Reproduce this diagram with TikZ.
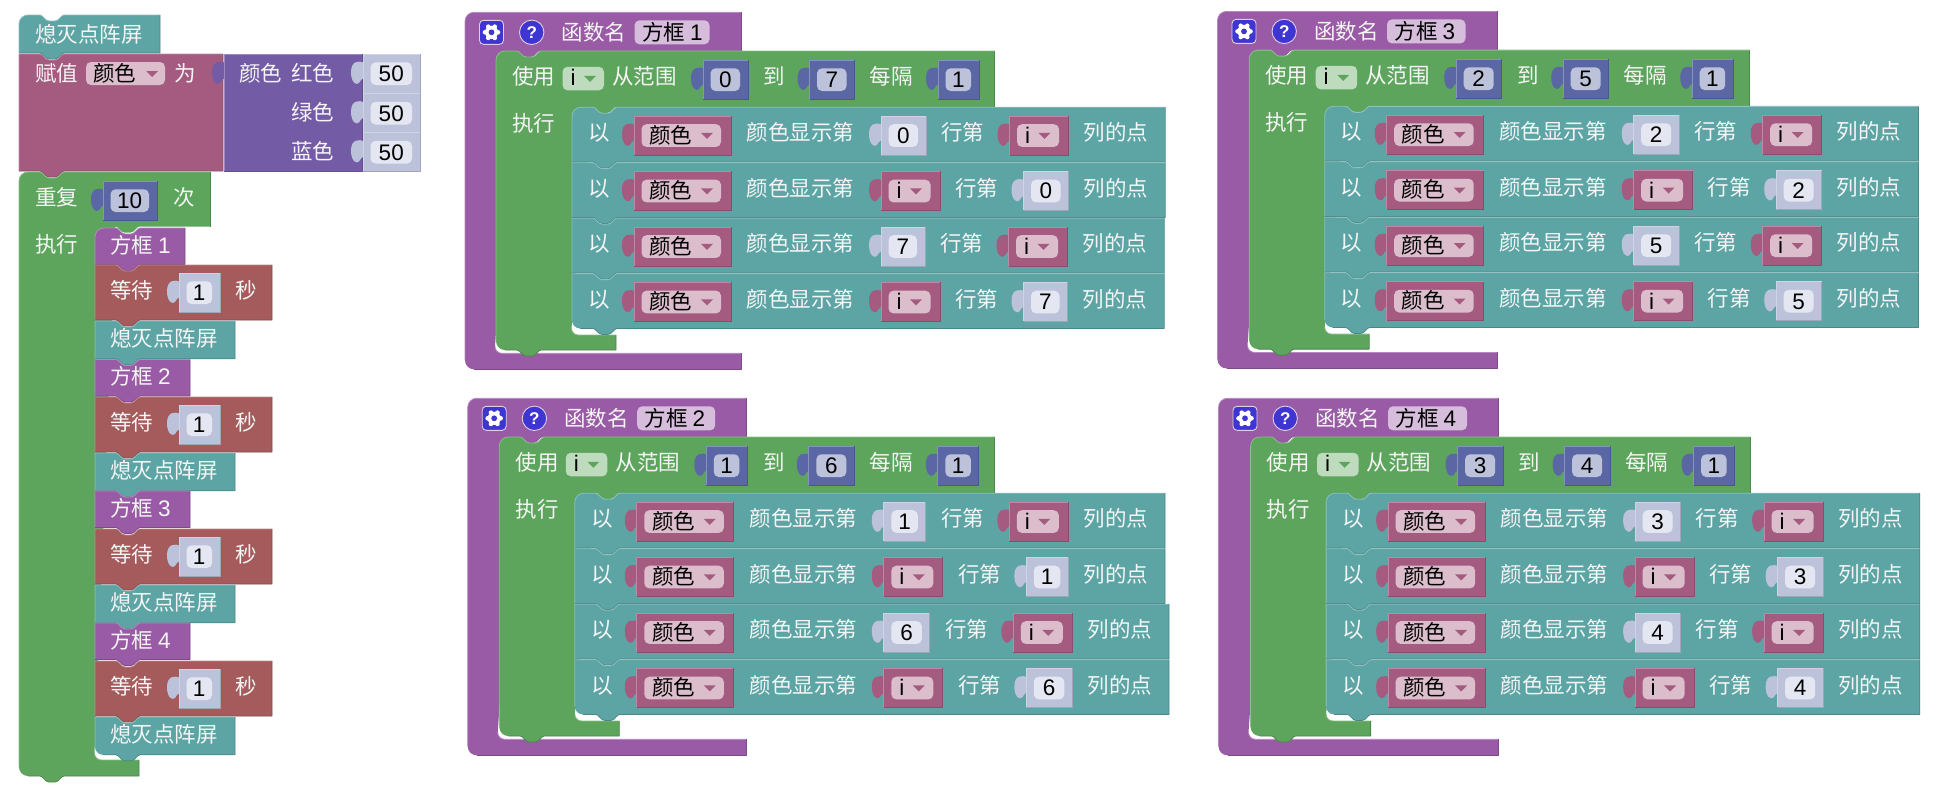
\documentclass[tikz,border=0pt]{standalone}
\usepackage{fontspec}
\setmainfont{Noto Sans CJK SC}
\newfontfamily\dg{Liberation Sans}
\definecolor{cgreen}{HTML}{5DA55D}
\definecolor{cteal}{HTML}{5DA5A5}
\definecolor{cpink}{HTML}{A55B80}
\definecolor{clist}{HTML}{745BA5}
\definecolor{cproc}{HTML}{995BA5}
\definecolor{cred}{HTML}{A55B5B}
\definecolor{cblue}{HTML}{5B67A5}
\definecolor{cpale}{HTML}{BDC2DB}
\definecolor{cicon}{HTML}{3F35D2}
\tikzset{
  lbl/.style={anchor=base west,inner sep=0pt,font=\fontsize{21.5}{22}\selectfont},
  num/.style={anchor=base,inner sep=0pt,font=\dg\fontsize{22.5}{23}\selectfont,text=black},
  edge/.style={line width=.8pt,line join=round}
}
\newcount\lbn
\newcommand\lab[3]{\global\advance\lbn by 1 \node[lbl,text=white!96!black] (t\the\lbn) at ({#1},{#2+8}) {#3};}
\newcommand\labk[3]{\global\advance\lbn by 1 \node[lbl,text=black] (t\the\lbn) at ({#1},{#2+8}) {#3};}
\newcommand\numb[3]{\global\advance\lbn by 1 \node[num] (t\the\lbn) at ({#1},{#2+8}) {#3};}
\newcommand\dgt[1]{{\dg\fontsize{22.5}{23}\selectfont #1}}
% notch and tab
\newcommand\tn[3]{-- ({#1+21},{#2}) .. controls ({#1+24},{#2}) and ({#1+26},{#2+#3}) .. ({#1+30},{#2+#3}) -- ({#1+36},{#2+#3}) .. controls ({#1+40},{#2+#3}) and ({#1+42},{#2}) .. ({#1+45},{#2})}
\newcommand\bt[3]{-- ({#1+45},{#2}) .. controls ({#1+42},{#2}) and ({#1+40},{#2+#3}) .. ({#1+36},{#2+#3}) -- ({#1+30},{#2+#3}) .. controls ({#1+26},{#2+#3}) and ({#1+24},{#2}) .. ({#1+21},{#2})}
% stack block: x1 y1 x2 y2 colour topradius bottomradius
\newcommand\sblock[7]{%
  \fill[#5] ({#1},{#2+#6}) .. controls ({#1},{#2+.45*#6}) and ({#1+.45*#6},{#2}) .. ({#1+#6},{#2}) \tn{#1}{#2}{6} -- ({#3},{#2}) -- ({#3},{#4}) \bt{#1}{#4}{6} -- ({#1+#7},{#4}) .. controls ({#1+.45*#7},{#4}) and ({#1},{#4-.45*#7}) .. ({#1},{#4-#7}) -- cycle;
  \draw[edge,#5!72!white] ({#1},{#4-#7}) -- ({#1},{#2+#6}) .. controls ({#1},{#2+.45*#6}) and ({#1+.45*#6},{#2}) .. ({#1+#6},{#2}) \tn{#1}{#2}{6} -- ({#3},{#2});
  \draw[edge,#5!82!black] ({#3},{#2}) -- ({#3},{#4}) \bt{#1}{#4}{6} -- ({#1+#7},{#4});
}
% C block: x1 y1 x2 y2 xi y3 x4 y4 colour ; \cd is outer notch depth
\def\cd{6}
\newcommand\cblock[9]{%
  \fill[#9] ({#1},{#2+9}) .. controls ({#1},{#2+4}) and ({#1+4},{#2}) .. ({#1+9},{#2}) \tn{#1}{#2}{\cd} -- ({#3},{#2}) -- ({#3},{#4}) \bt{#5}{#4}{6} -- ({#5},{#6-7}) .. controls ({#5},{#6-3}) and ({#5+3},{#6}) .. ({#5+7},{#6}) -- ({#7},{#6}) -- ({#7},{#8}) \bt{#1}{#8}{\cd} -- ({#1+9},{#8}) .. controls ({#1+4},{#8}) and ({#1},{#8-4}) .. ({#1},{#8-9}) -- cycle;
  \draw[edge,#9!72!white] ({#1},{#8-9}) -- ({#1},{#2+9}) .. controls ({#1},{#2+4}) and ({#1+4},{#2}) .. ({#1+9},{#2}) \tn{#1}{#2}{\cd} -- ({#3},{#2});
  \draw[edge,#9!72!white] ({#5},{#6-7}) .. controls ({#5},{#6-3}) and ({#5+3},{#6}) .. ({#5+7},{#6}) -- ({#7},{#6});
  \draw[edge,#9!82!black] ({#3},{#2}) -- ({#3},{#4});
  \draw[edge,#9!82!black] ({#7},{#6}) -- ({#7},{#8}) \bt{#1}{#8}{\cd} -- ({#1+9},{#8});
}
% value block with a puzzle tab: xl yt xr h colour
\newcommand\vblock[5]{%
  \fill[#5] ({#1},{#2}) rectangle ({#3},{#2+#4});
  \fill[#5] ({#1+.5},{#2+8.5}) .. controls ({#1-3},{#2+7}) and ({#1-12},{#2+6}) .. ({#1-12},{#2+18}) .. controls ({#1-12},{#2+28}) and ({#1-7},{#2+32}) .. ({#1-4},{#2+29}) .. controls ({#1-3},{#2+27.5}) and ({#1-2},{#2+25}) .. ({#1+.5},{#2+24}) -- cycle;
  \draw[edge,#5!72!white] ({#1},{#2+#4}) -- ({#1},{#2}) -- ({#3},{#2});
  \draw[edge,#5!85!black] ({#3},{#2}) -- ({#3},{#2+#4}) -- ({#1},{#2+#4});
}
\newcommand\field[5]{\fill[#5!40!white,rounded corners=5pt] ({#1},{#2}) rectangle ({#3},{#4});}
\newcommand\tri[4]{\fill[#4] ({#1},{#2}) -- ({#1+12},{#2}) -- ({#1+6},{#2+6}) -- cycle;}
% digit value: xl yt xr digit blockcolour
\newcommand\nval[5]{%
  \vblock{#1}{#2}{#3}{39}{#5}
  \field{#1+7.5}{#2+8.3}{#3-8}{#2+31}{#5}
  \numb{(#1+7.5+#3-8)/2}{#2+19.5}{#4}
}
% i value: xl yt
\newcommand\ival[2]{%
  \vblock{#1}{#2}{#1+59}{39}{cpink}
  \field{#1+7.5}{#2+8.3}{#1+49.5}{#2+31}{cpink}
  \numb{#1+18}{#2+19.5}{i}
  \tri{#1+29}{#2+17}{}{cpink}
}
\newcommand\anyval[4]{\def\zzt{#3}\def\zzi{i}\ifx\zzt\zzi\ival{#1}{#2}\else\nval{#1}{#2}{#1+#4}{#3}{cpale}\fi}
% row: X Y a wa b wb topradius bottomradius
\newcommand\plotrow[8]{%
  \pgfmathsetmacro\zzvr{#1+309+#4}
  \pgfmathsetmacro\zzvl{\zzvr+83.5}
  \pgfmathsetmacro\zzwr{\zzvl+#6}
  \pgfmathsetmacro\zzri{\zzwr+96.7}
  \sblock{#1}{#2}{\zzri}{#2+54.7}{cteal}{#7}{#8}
  \lab{#1+16}{#2+25.5}{以}
  \vblock{#1+62}{#2+8.7}{#1+159}{39}{cpink}
  \field{#1+69.5}{#2+17}{#1+149}{#2+39.7}{cpink}
  \labk{#1+77}{#2+28}{颜色}
  \tri{#1+129}{#2+25.7}{}{cpink}
  \lab{#1+174.5}{#2+25.5}{颜色显示第}
  \anyval{#1+309}{#2+8.7}{#3}{#4}
  \lab{\zzvr+15}{#2+25.5}{行第}
  \anyval{\zzvl}{#2+8.7}{#5}{#6}
  \lab{\zzwr+15}{#2+25.5}{列的点}
}
% function wrapper: O T fieldwidth digit
\newcommand\funcblock[4]{%
  \pgfmathsetmacro\zzfr{#1+169.5+#3}
  \def\cd{0}
  \cblock{#1}{#2}{\zzfr+31.6}{#2+38.7}{#1+30}{#2+341}{\zzfr+31.6}{#2+357}{cproc}
  \def\cd{6}
  \fill[cicon,draw=white!70!cproc,line width=.9pt,rounded corners=4pt] ({#1+14.5},{#2+8}) rectangle ({#1+38.5},{#2+32});
  \fill[white] ({#1+26.5},{#2+20}) circle (6.6);
  \foreach \zza in {0,60,...,300}{\fill[white] ({#1+26.5+6.5*cos(\zza)},{#2+20+6.5*sin(\zza)}) circle (2.3);}
  \fill[cicon] ({#1+26.5},{#2+20}) circle (2.9);
  \fill[cicon,draw=white!70!cproc,line width=.9pt] ({#1+66.7},{#2+20}) circle (12.2);
  \global\advance\lbn by 1
  \node[inner sep=0pt,anchor=base,text=white,font=\dg\bfseries\fontsize{17}{17}\selectfont] (t\the\lbn) at ({#1+66.7},{#2+26}) {?};
  \lab{#1+96.5}{#2+19.7}{函数名}
  \field{#1+169.5}{#2+8}{\zzfr}{#2+32}{cproc}
  \labk{#1+177}{#2+20}{方框 \dgt{#4}}
}
% loop head: I T a wa b wb
\newcommand\forhead[6]{%
  \pgfmathsetmacro\zzar{#1+207+#4}
  \pgfmathsetmacro\zzbl{\zzar+61.5}
  \pgfmathsetmacro\zzbr{\zzbl+#6}
  \pgfmathsetmacro\zzcl{\zzbr+83.5}
  \cblock{#1}{#2+38.7}{\zzcl+56.7}{#2+94.5}{#1+75.5}{#2+322.7}{#1+120}{#2+337.7}{cgreen}
  \lab{#1+16}{#2+64.5}{使用}
  \field{#1+66.5}{#2+54.5}{#1+108}{#2+78}{cgreen}
  \numb{#1+77}{#2+65.5}{i}
  \tri{#1+88}{#2+63.5}{}{cgreen}
  \lab{#1+116}{#2+64.5}{从范围}
  \nval{#1+207}{#2+47.7}{\zzar}{#3}{cblue}
  \lab{\zzar+15.5}{#2+64.5}{到}
  \nval{\zzbl}{#2+47.7}{\zzbr}{#5}{cblue}
  \lab{\zzbr+15}{#2+64.5}{每隔}
  \nval{\zzcl}{#2+47.7}{\zzcl+41}{1}{cblue}
  \lab{#1+16}{#2+111.5}{执行}
}
\newcommand\seqwait[1]{%
  \sblock{95}{#1}{272}{#1+55}{cred}{0}{0}
  \lab{110}{#1+25}{等待}
  \nval{179}{#1+8}{220}{1}{cpale}
  \lab{235}{#1+25}{秒}
}
\newcommand\seqdark[2]{%
  \sblock{95}{#1}{235}{#1+37.8}{cteal}{0}{#2}
  \lab{110}{#1+17.3}{熄灭点阵屏}
}
\newcommand\seqbox[4]{%
  \sblock{95}{#1}{#2}{#1+36.5}{cproc}{#4}{0}
  \lab{110}{#1+17.3}{方框 \dgt{#3}}
}
\begin{document}
\begin{tikzpicture}[x=1pt,y=-1pt]
\useasboundingbox (0,0) rectangle (1942,798);
\fill[white] (0,0) rectangle (1942,798);
% ---- left column
\sblock{19}{15}{160}{53}{cteal}{9}{0}
\lab{35}{34}{熄灭点阵屏}
\sblock{19}{54}{223}{171}{cpink}{0}{0}
\lab{35}{73}{赋值}
\field{86}{62}{165}{85}{cpink}
\labk{93}{73.5}{颜色}
\tri{146}{71}{}{cpink}
\lab{174}{73}{为}
\vblock{224}{54}{362}{117}{clist}
\lab{239}{73}{颜色}
\lab{291}{73}{红色}
\lab{291}{112}{绿色}
\lab{291}{151}{蓝色}
\nval{363}{54}{420}{50}{cpale}
\nval{363}{93.5}{420}{50}{cpale}
\nval{363}{132.5}{420}{50}{cpale}
\cblock{19}{172}{210}{226.5}{94.5}{760}{139}{776}{cgreen}
\lab{35}{197}{重复}
\nval{103}{181}{157}{10}{cblue}
\lab{173}{197}{次}
\lab{35}{244}{执行}
\seqbox{228}{185}{1}{9}
\seqwait{265}
\seqdark{321}{0}
\seqbox{359.5}{190}{2}{0}
\seqwait{397}
\seqdark{453}{0}
\seqbox{491}{190}{3}{0}
\seqwait{529}
\seqdark{585}{0}
\seqbox{623}{190}{4}{0}
\seqwait{661}
\seqdark{717}{8}
% ---- function 1
\funcblock{465}{12.3}{75}{1}
\forhead{496}{12.3}{0}{45}{7}{45}
\plotrow{572}{107.2}{0}{45}{i}{59}{9}{0}
\plotrow{572}{162.7}{i}{59}{0}{45}{0}{0}
\plotrow{572}{218.2}{7}{44}{i}{59}{0}{0}
\plotrow{572}{273.7}{i}{59}{7}{44}{0}{8}
% ---- function 2
\funcblock{467.7}{398.3}{78}{2}
\forhead{499.3}{398.3}{1}{41}{6}{45.5}
\plotrow{574.8}{493.2}{1}{42}{i}{59}{9}{0}
\plotrow{574.8}{548.7}{i}{59}{1}{42}{0}{0}
\plotrow{574.8}{604.2}{6}{46}{i}{59}{0}{0}
\plotrow{574.8}{659.7}{i}{59}{6}{46}{0}{8}
% ---- function 3
\funcblock{1217.5}{11.4}{78.5}{3}
\forhead{1249.2}{11.4}{2}{45.5}{5}{45.5}
\plotrow{1324.7}{106.3}{2}{45.5}{i}{59}{9}{0}
\plotrow{1324.7}{161.8}{i}{59}{2}{45.5}{0}{0}
\plotrow{1324.7}{217.3}{5}{45.5}{i}{59}{0}{0}
\plotrow{1324.7}{272.8}{i}{59}{5}{45.5}{0}{8}
% ---- function 4
\funcblock{1218.5}{398.3}{79}{4}
\forhead{1250.6}{398.3}{3}{45.5}{4}{45.5}
\plotrow{1326.1}{493.2}{3}{45.5}{i}{59}{9}{0}
\plotrow{1326.1}{548.7}{i}{59}{3}{45.5}{0}{0}
\plotrow{1326.1}{604.2}{4}{45.5}{i}{59}{0}{0}
\plotrow{1326.1}{659.7}{i}{59}{4}{45.5}{0}{8}
\end{tikzpicture}
\end{document}
